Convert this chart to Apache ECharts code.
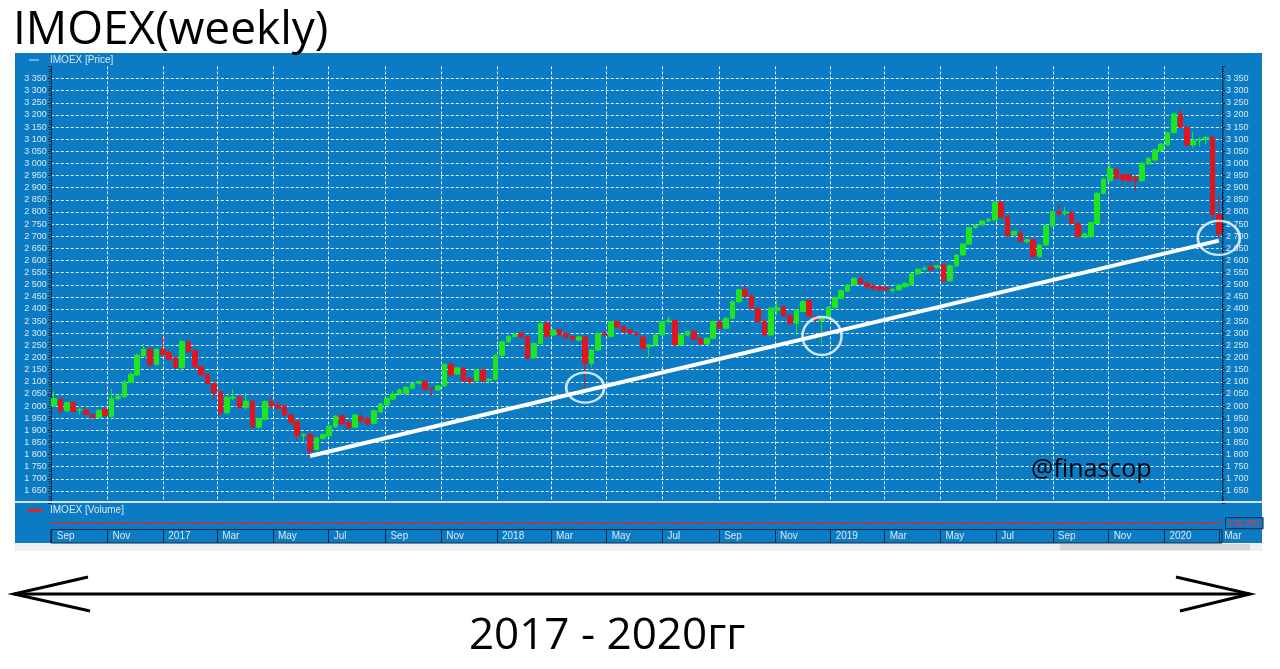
<!DOCTYPE html>
<html><head><meta charset="utf-8">
<script src="https://cdn.jsdelivr.net/npm/echarts@6/dist/echarts.min.js"></script>
<style>html,body{margin:0;padding:0;background:#fff;}#c{width:1280px;height:669px;}</style>
</head><body><div id="c"></div>
<script>
// weekly candles (week start dates)
const weeks = [
'2016-09-05','2016-09-12','2016-09-19','2016-09-26','2016-10-03','2016-10-10','2016-10-17','2016-10-24','2016-10-31','2016-11-07',
'2016-11-14','2016-11-21','2016-11-28','2016-12-05','2016-12-12','2016-12-19','2016-12-26','2017-01-02','2017-01-09','2017-01-16',
'2017-01-23','2017-01-30','2017-02-06','2017-02-13','2017-02-20','2017-02-27','2017-03-06','2017-03-13','2017-03-20','2017-03-27',
'2017-04-03','2017-04-10','2017-04-17','2017-04-24','2017-05-01','2017-05-08','2017-05-15','2017-05-22','2017-05-29','2017-06-05',
'2017-06-12','2017-06-19','2017-06-26','2017-07-03','2017-07-10','2017-07-17','2017-07-24','2017-07-31','2017-08-07','2017-08-14',
'2017-08-21','2017-08-28','2017-09-04','2017-09-11','2017-09-18','2017-09-25','2017-10-02','2017-10-09','2017-10-16','2017-10-23',
'2017-10-30','2017-11-06','2017-11-13','2017-11-20','2017-11-27','2017-12-04','2017-12-11','2017-12-18','2017-12-25','2018-01-01',
'2018-01-08','2018-01-15','2018-01-22','2018-01-29','2018-02-05','2018-02-12','2018-02-19','2018-02-26','2018-03-05','2018-03-12',
'2018-03-19','2018-03-26','2018-04-02','2018-04-09','2018-04-16','2018-04-23','2018-04-30','2018-05-07','2018-05-14','2018-05-21',
'2018-05-28','2018-06-04','2018-06-11','2018-06-18','2018-06-25','2018-07-02','2018-07-09','2018-07-16','2018-07-23','2018-07-30',
'2018-08-06','2018-08-13','2018-08-20','2018-08-27','2018-09-03','2018-09-10','2018-09-17','2018-09-24','2018-10-01','2018-10-08',
'2018-10-15','2018-10-22','2018-10-29','2018-11-05','2018-11-12','2018-11-19','2018-11-26','2018-12-03','2018-12-10','2018-12-17',
'2018-12-24','2018-12-31','2019-01-07','2019-01-14','2019-01-21','2019-01-28','2019-02-04','2019-02-11','2019-02-18','2019-02-25',
'2019-03-04','2019-03-11','2019-03-18','2019-03-25','2019-04-01','2019-04-08','2019-04-15','2019-04-22','2019-04-29','2019-05-06',
'2019-05-13','2019-05-20','2019-05-27','2019-06-03','2019-06-10','2019-06-17','2019-06-24','2019-07-01','2019-07-08','2019-07-15',
'2019-07-22','2019-07-29','2019-08-05','2019-08-12','2019-08-19','2019-08-26','2019-09-02','2019-09-09','2019-09-16','2019-09-23',
'2019-09-30','2019-10-07','2019-10-14','2019-10-21','2019-10-28','2019-11-04','2019-11-11','2019-11-18','2019-11-25','2019-12-02',
'2019-12-09','2019-12-16','2019-12-23','2019-12-30','2020-01-06','2020-01-13','2020-01-20','2020-01-27','2020-02-03','2020-02-10',
'2020-02-17','2020-02-24','2020-03-02'
];
const openP = [
2000,2029,1981,2014,1983,1983,1965,1953,1986,1957,
2030,2038,2097,2128,2207,2234,2172,2234,2220,2199,
2158,2266,2228,2162,2131,2093,2058,1972,2033,2038,
1994,2020,1913,1945,2018,2004,2000,1963,1935,1878,
1883,1821,1866,1877,1914,1960,1932,1913,1954,1950,
1929,1976,2005,2029,2050,2053,2073,2094,2101,2073,
2066,2083,2172,2132,2156,2115,2104,2149,2104,2110,
2209,2265,2287,2300,2285,2199,2258,2341,2293,2314,
2300,2286,2272,2284,2176,2231,2300,2287,2348,2327,
2314,2300,2284,2245,2252,2293,2348,2352,2252,2293,
2307,2279,2256,2279,2348,2321,2362,2430,2479,2451,
2403,2348,2293,2395,2410,2372,2341,2390,2435,2369,
2352,2369,2406,2444,2474,2499,2524,2506,2495,2492,
2490,2476,2479,2492,2499,2545,2564,2572,2572,2582,
2516,2578,2623,2668,2736,2746,2763,2767,2839,2781,
2705,2712,2678,2685,2616,2664,2742,2801,2795,2797,
2753,2696,2698,2753,2877,2929,2976,2953,2953,2943,
2929,2998,3014,3053,3076,3127,3204,3149,3076,3094,
3100,3108,2788
];
const closeP = [
2031,1980,2014,1978,1986,1965,1952,1983,1960,2031,
2041,2099,2131,2210,2234,2169,2234,2213,2193,2158,
2266,2224,2162,2128,2093,2055,1970,2036,2037,1994,
2020,1914,1948,2018,2001,1990,1963,1931,1880,1882,
1815,1869,1883,1917,1958,1927,1911,1963,1940,1926,
1981,2009,2032,2050,2066,2077,2094,2101,2069,2070,
2083,2172,2128,2158,2104,2101,2149,2104,2110,2209,
2265,2288,2294,2286,2198,2258,2340,2287,2313,2295,
2285,2273,2285,2176,2231,2300,2293,2348,2327,2308,
2300,2293,2238,2252,2293,2348,2355,2252,2293,2307,
2275,2256,2279,2348,2321,2362,2430,2479,2451,2403,
2348,2293,2403,2405,2372,2341,2396,2430,2371,2358,
2362,2408,2447,2476,2499,2527,2506,2492,2485,2479,
2479,2481,2499,2506,2545,2564,2568,2561,2578,2516,
2578,2623,2668,2736,2743,2763,2770,2839,2778,2701,
2719,2678,2685,2616,2664,2743,2801,2795,2800,2753,
2698,2710,2756,2877,2935,2980,2939,2935,2929,2929,
3001,3021,3056,3080,3127,3204,3149,3076,3094,3100,
3108,2788,2709.67
];
const lowP = [
1997,1970,1976,1975,1965,1963,1948,1950,1957,1942,
2022,2034,2094,2124,2204,2162,2168,2201,2188,2154,
2142,2219,2158,2124,2089,2027,1966,1968,2025,1990,
1985,1910,1907,1941,1988,1986,1959,1927,1855,1853,
1790,1817,1862,1873,1910,1922,1906,1909,1930,1920,
1925,1972,2001,2025,2046,2049,2069,2090,2065,2042,
2062,2079,2124,2128,2100,2090,2100,2096,2098,2106,
2205,2261,2283,2280,2194,2195,2254,2283,2289,2290,
2275,2266,2268,2073,2160,2227,2288,2283,2322,2303,
2295,2288,2234,2197,2248,2289,2340,2248,2248,2288,
2270,2252,2252,2275,2317,2317,2358,2426,2447,2399,
2344,2289,2289,2375,2368,2337,2293,2386,2367,2345,
2259,2365,2402,2440,2470,2495,2502,2480,2478,2472,
2472,2465,2475,2488,2495,2541,2560,2557,2566,2512,
2512,2574,2619,2664,2730,2742,2758,2763,2774,2697,
2700,2674,2670,2612,2612,2660,2738,2780,2785,2749,
2694,2690,2694,2749,2873,2925,2935,2915,2925,2884,
2925,2994,3010,3049,3072,3123,3145,3072,3065,3070,
3080,2770,2692
];
const highP = [
2059,2033,2018,2018,1993,2000,1968,1986,1994,2070,
2048,2107,2142,2217,2256,2238,2238,2293,2228,2203,
2272,2270,2232,2166,2135,2097,2062,2040,2070,2042,
2054,2024,1952,2022,2036,2018,2004,1967,1939,1887,
1887,1873,1887,1921,1962,1966,1937,1967,1970,1955,
1985,2013,2036,2062,2072,2083,2098,2105,2105,2078,
2087,2176,2182,2162,2160,2118,2153,2153,2114,2213,
2269,2292,2300,2305,2289,2262,2344,2350,2320,2320,
2305,2290,2290,2288,2235,2305,2310,2352,2352,2331,
2318,2306,2288,2256,2297,2352,2370,2356,2297,2312,
2318,2283,2283,2352,2352,2366,2434,2483,2497,2465,
2407,2352,2407,2440,2414,2376,2400,2434,2439,2373,
2366,2412,2451,2480,2503,2531,2540,2515,2500,2498,
2494,2485,2503,2510,2549,2568,2578,2590,2582,2586,
2582,2627,2672,2740,2750,2767,2775,2845,2845,2785,
2725,2730,2690,2689,2668,2747,2805,2830,2820,2801,
2757,2714,2760,2881,2939,3006,2980,2957,2957,2947,
3005,3025,3060,3084,3131,3208,3227,3153,3130,3108,
3112,3112,2870
];
// x-axis month ticks
const monthTickDates = ['2016-09-01','2016-11-01','2017-01-01','2017-03-01','2017-05-01','2017-07-01','2017-09-01','2017-11-01',
'2018-01-01','2018-03-01','2018-05-01','2018-07-01','2018-09-01','2018-11-01','2019-01-01','2019-03-01','2019-05-01','2019-07-01',
'2019-09-01','2019-11-01','2020-01-01','2020-03-01'];
const monthTickLabels = ['Sep','Nov','2017','Mar','May','Jul','Sep','Nov','2018','Mar','May','Jul','Sep','Nov','2019','Mar','May','Jul','Sep','Nov','2020','Mar'];
const axisStartDate = '2016-08-31';
// price axis
const priceMin = 1600, priceMax = 3400, priceStep = 50;
// volume (flat)
const volumeLevel = 138.281;
const volumeLabel = '138.281';
const lastCloseLabel = '2 709.67';
// annotations: [week index, price]
const trendLine = [[40, 1794], [182, 2682]];
const circles = [[83, 2076, 38, 30], [120, 2289, 39, 38], [182, 2693, 42, 34]];

const dayMs = 86400000;
const t0 = Date.parse(axisStartDate);
const monthOffsets = monthTickDates.map(d => Math.round((Date.parse(d) - t0) / dayMs));
const spanDays = weeks.length * 7;
const labelByOffset = {};
monthOffsets.forEach((o, i) => labelByOffset[o] = monthTickLabels[i]);

const candles = weeks.map((w, i) => [openP[i], closeP[i], lowP[i], highP[i]]);

const BLUE = '#0b7cc3', DARK = '#0c2a45', LIGHT = '#dce7f1';
const GREEN = '#1ee61e', RED = '#e3141c';
const fmtPrice = v => (v === priceMin || v === priceMax) ? '' : (Math.floor(v / 1000) + ' ' + String(v % 1000).padStart(3, '0'));
const L = 50.8, R = 58;

const chart = echarts.init(document.getElementById('c'));
chart.setOption({
  animation: false,
  backgroundColor: '#fff',
  textStyle: {fontFamily: '"Liberation Sans", Arial, sans-serif'},
  grid: [
    {left: L, right: R, top: 66.4, bottom: 165.9},
    {left: L, right: R, top: 504, bottom: 140},
    {left: L, right: R, top: 529.5, bottom: 126, show: true, borderColor: DARK, borderWidth: 1, backgroundColor: 'transparent'}
  ],
  xAxis: [
    {type: 'category', gridIndex: 0, data: weeks, boundaryGap: true, show: false},
    {type: 'value', gridIndex: 0, min: 0, max: spanDays, axisLine: {show: false}, axisLabel: {show: false},
     axisTick: {show: false, customValues: monthOffsets},
     splitLine: {show: true, showMinLine: false, showMaxLine: false, lineStyle: {color: 'rgba(255,255,255,0.9)', type: [3, 2], width: 1}}},
    {type: 'value', gridIndex: 1, min: 0, max: spanDays, show: false},
    {type: 'value', gridIndex: 2, min: 0, max: spanDays, position: 'bottom',
     axisLine: {show: false},
     axisTick: {show: true, inside: true, length: 14, customValues: monthOffsets, lineStyle: {color: DARK, width: 1}},
     axisLabel: {show: true, inside: true, customValues: monthOffsets, margin: 2, align: 'left', padding: [0, 0, 0, 5],
       fontSize: 10, color: LIGHT, formatter: v => labelByOffset[Math.round(v)] || ''},
     splitLine: {show: false}}
  ],
  yAxis: [
    {type: 'value', gridIndex: 0, position: 'left', min: priceMin, max: priceMax, interval: priceStep,
     axisLine: {show: true, lineStyle: {color: DARK, width: 1}},
     axisTick: {show: true, length: 3, lineStyle: {color: DARK}},
     minorTick: {show: true, splitNumber: 5, length: 2, lineStyle: {color: DARK}},
     axisLabel: {fontSize: 9, color: LIGHT, margin: 4, formatter: fmtPrice},
     splitLine: {show: true, showMinLine: false, showMaxLine: false, lineStyle: {color: 'rgba(255,255,255,0.9)', type: [3, 2], width: 1}}},
    {type: 'value', gridIndex: 0, position: 'right', min: priceMin, max: priceMax, interval: priceStep,
     axisLine: {show: true, lineStyle: {color: DARK, width: 1}},
     axisTick: {show: true, length: 3, lineStyle: {color: DARK}},
     minorTick: {show: true, splitNumber: 5, length: 2, lineStyle: {color: DARK}},
     axisLabel: {fontSize: 9, color: LIGHT, margin: 4, formatter: fmtPrice},
     splitLine: {show: false}},
    {type: 'value', gridIndex: 1, min: 0, max: 600, show: false},
    {type: 'value', gridIndex: 2, min: 0, max: 1, show: false}
  ],
  series: [
    {type: 'candlestick', name: 'IMOEX', xAxisIndex: 0, yAxisIndex: 0, data: candles, barWidth: 5,
     itemStyle: {color: GREEN, color0: RED, borderColor: GREEN, borderColor0: RED, borderWidth: 1},
     markLine: {silent: true, symbol: 'none', data: [{yAxis: closeP[closeP.length - 1]}],
       lineStyle: {opacity: 0},
       label: {show: true, position: 'end', distance: 0, formatter: lastCloseLabel, fontSize: 9, color: LIGHT,
         backgroundColor: BLUE, borderColor: DARK, borderWidth: 1, padding: [1, 1, 0, 1]}}},
    {type: 'line', xAxisIndex: 0, yAxisIndex: 0, symbol: 'none', z: 5,
     data: trendLine.map(p => [weeks[p[0]], p[1]]),
     lineStyle: {color: '#ffffff', width: 4}},
    {type: 'scatter', xAxisIndex: 0, yAxisIndex: 0, z: 6,
     data: circles.map(c => ({value: [weeks[c[0]], c[1]], symbolSize: [c[2], c[3]]})),
     symbol: 'circle',
     itemStyle: {color: 'rgba(0,0,0,0)', borderColor: '#ffffff', borderWidth: 2.5}},
    {type: 'line', xAxisIndex: 2, yAxisIndex: 2, data: [], symbol: 'none',
     markLine: {silent: true, symbol: 'none', data: [{yAxis: volumeLevel}],
       lineStyle: {color: '#e02424', type: [2, 1], width: 2},
       label: {show: true, position: 'end', distance: 4, formatter: volumeLabel, fontSize: 9, color: '#ff3030',
         backgroundColor: BLUE, borderColor: DARK, borderWidth: 1, padding: [1, 2, 0, 2]}}}
  ],
  graphic: [
    {type: 'rect', z: -10, shape: {x: 15, y: 53, width: 1247, height: 490}, style: {fill: BLUE}},
    {type: 'rect', z: -10, shape: {x: 15, y: 543, width: 1247, height: 8}, style: {fill: '#efefef'}},
    {type: 'rect', z: -9, shape: {x: 1060, y: 544, width: 190, height: 6}, style: {fill: '#d6d6d6'}},
    {type: 'line', z: 1, shape: {x1: 15, y1: 502, x2: 1262, y2: 502}, style: {stroke: '#cfe3f3', lineWidth: 2}},
    {type: 'line', z: 1, shape: {x1: 29, y1: 60, x2: 39, y2: 60}, style: {stroke: LIGHT, lineWidth: 1}},
    {type: 'text', z: 1, x: 50, y: 60, style: {text: 'IMOEX [Price]', font: '10px "Liberation Sans", Arial', fill: LIGHT, verticalAlign: 'middle'}},
    {type: 'line', z: 1, shape: {x1: 28, y1: 510.5, x2: 42, y2: 510.5}, style: {stroke: '#e02424', lineWidth: 3}},
    {type: 'text', z: 1, x: 50, y: 510.5, style: {text: 'IMOEX [Volume]', font: '10px "Liberation Sans", Arial', fill: LIGHT, verticalAlign: 'middle'}},
    {type: 'text', z: 10, x: 13, y: 31, style: {text: 'IMOEX(weekly)', font: '46px "Open Sans"', fill: '#000', verticalAlign: 'middle'}},
    {type: 'text', z: 10, x: 1031, y: 470, style: {text: '@finascop', font: '25px "Open Sans"', fill: '#000', verticalAlign: 'middle'}},
    {type: 'line', z: 10, shape: {x1: 14, y1: 594, x2: 1250, y2: 594}, style: {stroke: '#000', lineWidth: 3}},
    {type: 'polyline', z: 10, shape: {points: [[88, 577], [14, 594], [90, 611]]}, style: {stroke: '#000', lineWidth: 3, fill: null}},
    {type: 'polyline', z: 10, shape: {points: [[1176, 577], [1250, 594], [1180, 611]]}, style: {stroke: '#000', lineWidth: 3, fill: null}},
    {type: 'text', z: 10, x: 607, y: 636, style: {text: '2017 - 2020гг', font: '44px "Open Sans"', fill: '#000', align: 'center', verticalAlign: 'middle'}}
  ]
});
</script></body></html>
